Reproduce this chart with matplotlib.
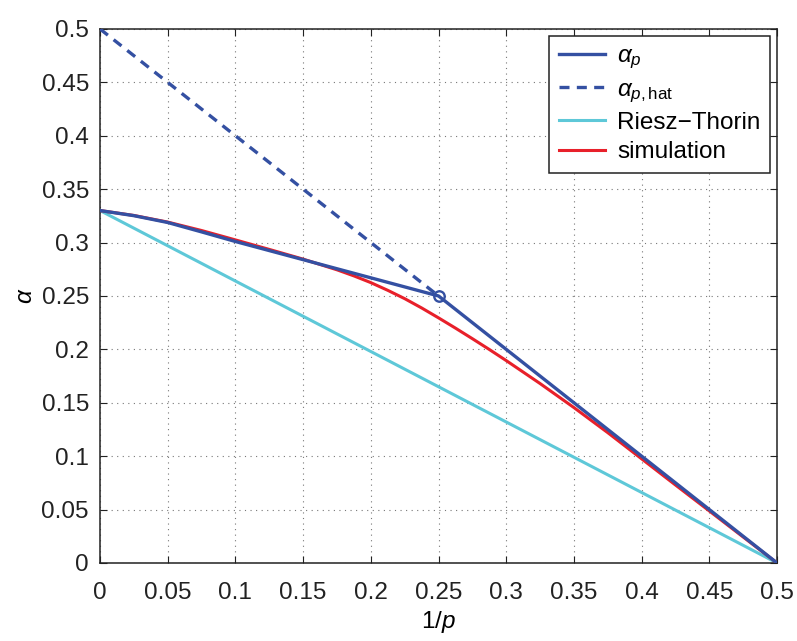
import matplotlib
matplotlib.use("Agg")
import matplotlib.pyplot as plt

plt.rcParams['font.family'] = ['Liberation Sans', 'DejaVu Sans']
plt.rcParams['mathtext.fontset'] = 'custom'
plt.rcParams['mathtext.rm'] = 'Liberation Sans'
plt.rcParams['mathtext.it'] = 'Liberation Sans:italic'
plt.rcParams['mathtext.bf'] = 'Liberation Sans:bold'

# alpha_p: curved part up to the corner at 1/p = 0.25, then straight to 0.5
inv_p = [0.0, 0.025, 0.05, 0.075, 0.1, 0.125, 0.15, 0.175, 0.2, 0.225, 0.25, 0.5]
alpha_p = [0.33, 0.3252, 0.3188, 0.310, 0.301, 0.2925, 0.284, 0.2755, 0.267, 0.2585, 0.25, 0.0]

# alpha_p,hat continued past the corner
inv_p_hat = [0.0, 0.25]
alpha_hat = [0.5, 0.25]

# Riesz-Thorin interpolation bound
inv_p_rt = [0.0, 0.5]
alpha_rt = [0.33, 0.0]

# simulated exponent
inv_p_sim = [0.0, 0.025, 0.05, 0.075, 0.1, 0.125, 0.15, 0.175, 0.1875, 0.2, 0.2125,
             0.225, 0.2375, 0.25, 0.2625, 0.275, 0.2875, 0.3, 0.325, 0.35, 0.375,
             0.4, 0.425, 0.45, 0.475, 0.5]
alpha_sim = [0.330, 0.3254, 0.3192, 0.3113, 0.3025, 0.2936, 0.2845, 0.2745, 0.2688, 0.2625,
             0.2553, 0.2475, 0.2388, 0.2295, 0.2199, 0.210, 0.1999, 0.1895, 0.168, 0.1455,
             0.122, 0.0975, 0.073, 0.0487, 0.0243, 0.0]

corner = (0.25, 0.25)

blue = '#3450a2'
cyan = '#5ec8d8'
red = '#e8202a'

fig = plt.figure(figsize=(7.97, 6.41), dpi=100)
ax = fig.add_axes([0.1255, 0.1217, 0.8495, 0.8331])

ax.plot(inv_p_rt, alpha_rt, color=cyan, lw=2.2, label='Riesz\u2212Thorin', zorder=2)
ax.plot(inv_p_sim, alpha_sim, color=red, lw=2.2, label='simulation', zorder=3)
ax.plot(inv_p, alpha_p, color=blue, lw=2.4, label=r'$\alpha_p$', zorder=4)
ax.plot(inv_p_hat, alpha_hat, color=blue, lw=2.4, ls=(0, (3, 2.2)),
        label=r'$\alpha_{p,\mathrm{hat}}$', zorder=4)
ax.plot(*corner, marker='o', ms=7.5, mfc='none', mec=blue, mew=1.7, zorder=5)

ax.set_xlim(0, 0.5)
ax.set_ylim(0, 0.5)
ticks = [0, 0.05, 0.1, 0.15, 0.2, 0.25, 0.3, 0.35, 0.4, 0.45, 0.5]
labels = ['0', '0.05', '0.1', '0.15', '0.2', '0.25', '0.3', '0.35', '0.4', '0.45', '0.5']
ax.set_xticks(ticks)
ax.set_xticklabels(labels)
ax.set_yticks(ticks)
ax.set_yticklabels(labels)
ax.tick_params(direction='in', length=5, width=0.8, top=True, right=True,
               labelsize=17.5, colors='#222222')
ax.tick_params(axis='x', pad=14)
ax.tick_params(axis='y', pad=8)
ax.grid(True, ls=(0, (1, 4)), color='#777777', lw=0.8)
for s in ax.spines.values():
    s.set_color('#222222')
    s.set_linewidth(1.1)

ax.set_xlabel(r'$1/p$', fontsize=17.5, labelpad=3)
ax.set_ylabel(r'$\alpha$', fontsize=17.5, labelpad=3)

handles, labs = ax.get_legend_handles_labels()
order = [2, 3, 0, 1]
leg = ax.legend([handles[i] for i in order], [labs[i] for i in order],
                loc='upper right', fontsize=17.5, fancybox=False, framealpha=1,
                edgecolor='#222222', borderaxespad=0.28, handlelength=1.9,
                handletextpad=0.5, labelspacing=0.3, borderpad=0.4)
leg.get_frame().set_linewidth(1.1)

fig.savefig('out.png', dpi=100)
